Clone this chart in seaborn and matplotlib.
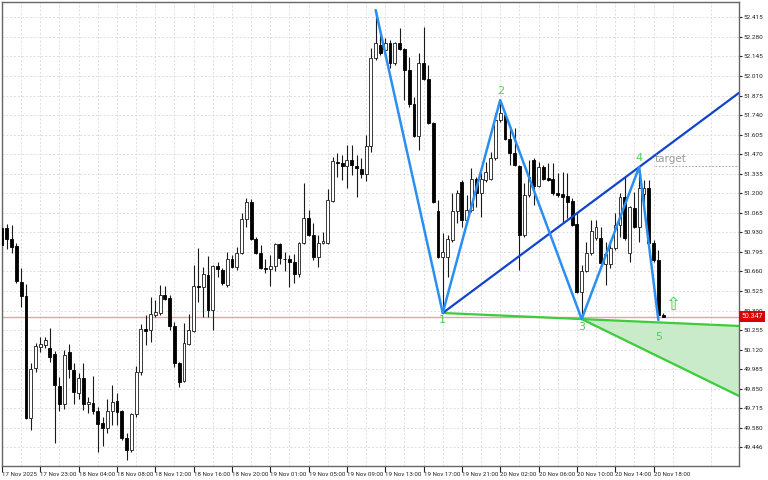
import matplotlib
matplotlib.use('Agg')
import matplotlib.pyplot as plt
import seaborn as sns
import numpy as np

# M30 bars, oldest first
opens = [50.960, 50.960, 50.884, 50.836, 50.587, 50.490, 49.648, 49.993, 50.138, 50.152,
         50.131, 50.090, 49.869, 49.745, 50.104, 49.979, 49.821, 49.924, 49.745, 49.752,
         49.696, 49.613, 49.579, 49.696, 49.765, 49.696, 49.510, 49.427, 49.675, 49.966,
         50.262, 50.256, 50.359, 50.373, 50.497, 50.477, 50.283, 50.028, 49.904, 50.159,
         50.249, 50.559, 50.553, 50.635, 50.394, 50.697, 50.670, 50.566, 50.746, 50.691,
         50.787, 51.022, 51.139, 50.884, 50.787, 50.684, 50.677, 50.697, 50.850, 50.746,
         50.743, 50.725, 50.642, 50.856, 51.029, 50.912, 50.760, 50.856, 50.856, 51.146,
         51.416, 51.409, 51.388, 51.430, 51.388, 51.367, 51.333, 51.526, 52.134, 52.224,
         52.189, 52.238, 52.099, 52.238, 52.196, 52.051, 51.816, 51.595, 52.099, 51.989,
         51.685, 51.077, 50.760, 50.760, 50.877, 51.077, 51.278, 51.015, 51.084, 51.298,
         51.202, 51.292, 51.298, 51.443, 51.706, 51.740, 51.575, 51.478, 51.388, 50.912,
         51.188, 51.430, 51.250, 51.381, 51.305, 51.298, 51.202, 51.195, 51.181, 51.146,
         50.988, 50.518, 50.663, 50.787, 50.891, 50.891, 50.711, 50.711, 50.822, 50.981,
         51.174, 50.787, 51.098, 50.967, 51.195, 51.236, 50.856, 50.739, 50.359]
highs = [50.974, 50.988, 50.981, 50.856, 50.684, 50.573, 50.028, 50.166, 50.207, 50.207,
         50.269, 50.110, 49.931, 50.117, 50.159, 50.028, 49.958, 50.028, 49.793, 49.938,
         49.724, 49.655, 49.779, 49.876, 49.821, 49.703, 49.544, 49.682, 50.007, 50.297,
         50.359, 50.483, 50.463, 50.566, 50.559, 50.497, 50.311, 50.035, 50.304, 50.366,
         50.704, 50.822, 50.691, 50.766, 50.704, 50.725, 50.684, 50.794, 50.774, 50.829,
         51.064, 51.167, 51.160, 50.898, 50.843, 50.746, 50.774, 50.856, 50.856, 50.794,
         50.774, 50.781, 50.862, 51.271, 51.084, 50.995, 50.912, 50.932, 51.229, 51.450,
         51.478, 51.464, 51.533, 51.533, 51.464, 51.443, 51.602, 52.203, 52.465, 52.307,
         52.272, 52.258, 52.244, 52.341, 52.203, 52.141, 51.865, 52.168, 52.348, 52.086,
         51.692, 51.153, 50.926, 50.912, 51.202, 51.222, 51.292, 51.188, 51.374, 51.312,
         51.340, 51.416, 51.485, 51.754, 51.844, 51.754, 51.657, 51.651, 51.395, 51.271,
         51.430, 51.443, 51.416, 51.395, 51.409, 51.409, 51.340, 51.347, 51.340, 51.167,
         51.064, 50.704, 50.863, 51.015, 51.015, 50.967, 50.863, 50.877, 51.064, 51.202,
         51.312, 51.110, 51.209, 51.381, 51.292, 51.292, 50.877, 50.808, 50.373]
lows = [50.829, 50.815, 50.787, 50.580, 50.414, 49.641, 49.565, 49.966, 50.104, 50.131,
        50.035, 49.475, 49.696, 49.710, 49.924, 49.745, 49.779, 49.703, 49.682, 49.675,
        49.413, 49.455, 49.544, 49.600, 49.600, 49.496, 49.358, 49.413, 49.655, 49.945,
        50.152, 50.173, 50.345, 50.359, 50.463, 50.256, 50.000, 49.862, 49.897, 50.152,
        50.242, 50.449, 50.345, 50.345, 50.256, 50.622, 50.566, 50.553, 50.684, 50.670,
        50.781, 50.967, 50.877, 50.781, 50.677, 50.649, 50.559, 50.663, 50.711, 50.663,
        50.553, 50.580, 50.622, 50.850, 50.905, 50.739, 50.691, 50.850, 50.850, 51.139,
        51.312, 51.292, 51.236, 51.326, 51.174, 51.305, 51.285, 51.485, 52.120, 52.155,
        52.155, 52.065, 52.086, 52.189, 51.844, 51.796, 51.588, 51.499, 51.982, 51.680,
        51.132, 50.753, 50.373, 50.622, 50.864, 50.995, 50.967, 51.002, 51.070, 51.105,
        51.036, 51.278, 51.292, 51.430, 51.692, 51.568, 51.395, 51.390, 50.670, 50.898,
        51.174, 51.119, 51.243, 51.292, 51.285, 51.188, 51.174, 51.002, 51.029, 50.974,
        50.511, 50.331, 50.656, 50.774, 50.877, 50.711, 50.566, 50.684, 50.808, 50.898,
        50.877, 50.725, 50.960, 50.864, 51.119, 50.843, 50.725, 50.325, 50.345]
closes = [50.843, 50.884, 50.829, 50.594, 50.490, 49.648, 49.986, 50.145, 50.159, 50.187,
          50.069, 49.876, 49.745, 50.083, 49.986, 49.827, 49.924, 49.745, 49.759, 49.696,
          49.606, 49.579, 49.696, 49.759, 49.689, 49.510, 49.427, 49.675, 49.966, 50.262,
          50.249, 50.366, 50.380, 50.497, 50.470, 50.283, 50.028, 49.897, 50.166, 50.256,
          50.559, 50.553, 50.642, 50.394, 50.697, 50.677, 50.580, 50.746, 50.691, 50.787,
          51.022, 51.139, 50.884, 50.787, 50.684, 50.680, 50.697, 50.850, 50.753, 50.743,
          50.725, 50.642, 50.856, 51.029, 50.912, 50.760, 50.856, 50.870, 51.153, 51.423,
          51.409, 51.388, 51.430, 51.395, 51.374, 51.333, 51.526, 52.134, 52.238, 52.169,
          52.238, 52.099, 52.238, 52.196, 52.051, 51.816, 51.595, 52.099, 51.989, 51.685,
          51.139, 50.760, 50.794, 50.884, 51.077, 51.202, 51.015, 51.084, 51.298, 51.202,
          51.298, 51.347, 51.443, 51.706, 51.754, 51.575, 51.478, 51.395, 50.912, 51.188,
          51.312, 51.250, 51.381, 51.298, 51.292, 51.202, 51.188, 51.174, 51.139, 50.981,
          50.518, 50.663, 50.787, 50.939, 50.967, 50.718, 50.780, 50.822, 50.981, 51.174,
          50.891, 51.105, 50.967, 51.236, 51.236, 50.856, 50.739, 50.359, 50.347]

time_labels = ['17 Nov 2025', '17 Nov 23:00', '18 Nov 04:00', '18 Nov 08:00', '18 Nov 12:00',
               '18 Nov 16:00', '18 Nov 20:00', '19 Nov 01:00', '19 Nov 05:00', '19 Nov 09:00',
               '19 Nov 13:00', '19 Nov 17:00', '19 Nov 21:00', '20 Nov 02:00', '20 Nov 06:00',
               '20 Nov 10:00', '20 Nov 14:00', '20 Nov 18:00']
price_labels = ['52.415', '52.280', '52.145', '52.010', '51.875', '51.740', '51.605', '51.470',
                '51.335', '51.200', '51.065', '50.930', '50.795', '50.660', '50.525', '50.390',
                '50.255', '50.120', '49.985', '49.850', '49.715', '49.580', '49.446']

# wave pattern: start, then points 1..5 (bar index, price)
wave_bars = [78, 92, 104, 121, 133, 137]
wave_prices = [52.465, 50.373, 51.844, 50.331, 51.381, 50.325]
wave_names = ['', '1', '2', '3', '4', '5']
target_price = 51.39
last_price = 50.347
wedge_low_end = 49.80

sns.set_style('white')
plt.rcParams['font.family'] = ['Roboto', 'DejaVu Sans']

fig = plt.figure(figsize=(7.68, 4.8), dpi=100)
ax = fig.add_axes([2 / 768, 14 / 480, 737 / 768, 464 / 480])
x_right = 153.84
ax.set_xlim(0.17, x_right)
ax.set_ylim(49.316, 52.521)

o = np.array(opens)
c = np.array(closes)
idx = np.arange(len(o))
up = c >= o

# grid
ax.set_yticks([float(p) for p in price_labels])
ax.set_yticklabels(price_labels)
ax.set_xticks(np.arange(0, 8 * len(time_labels), 8))
ax.set_xticklabels(time_labels)
ax.set_xticks(np.arange(4, 154, 8), minor=True)
ax.grid(True, which='both', ls=(0, (2, 2)), color='#dddddd', lw=0.7, zorder=0)

# current price line
ax.axhline(last_price, color='#e9a3a3', lw=1, zorder=1)

# wedge area between line 1-3 and lower edge from 3
b1, p1 = wave_bars[1], wave_prices[1]
b3, p3 = wave_bars[3], wave_prices[3]
b4, p4 = wave_bars[4], wave_prices[4]
s13 = (p3 - p1) / (b3 - b1)
xs = np.array([b3, x_right])
upper = p1 + s13 * (xs - b1)
lower = np.array([p3, wedge_low_end])
ax.fill_between(xs, lower, upper, color='#c9ebc9', zorder=1)

# candles
ax.vlines(idx, lows, highs, color='#1a1a1a', lw=0.8, zorder=2)
ax.bar(idx[up], (c - o)[up], bottom=o[up], width=0.6, color='white',
       edgecolor='#1a1a1a', linewidth=0.6, zorder=3)
ax.bar(idx[~up], (c - o)[~up], bottom=o[~up], width=0.6, color='black',
       edgecolor='black', linewidth=0.6, zorder=3)

# green lines
ax.plot([b1, x_right], [p1, p1 + s13 * (x_right - b1)], color='#3ccc3c', lw=1.6, zorder=4)
ax.plot(xs, lower, color='#3ccc3c', lw=1.6, zorder=4)

# trend line 1-4 extended
s14 = (p4 - p1) / (b4 - b1)
ax.plot([b1, x_right], [p1, p1 + s14 * (x_right - b1)], color='#1144cc', lw=1.6, zorder=4)

# zigzag
sns.lineplot(x=wave_bars, y=wave_prices, sort=False, color='#2a8ff0', lw=1.8, ax=ax, zorder=5)

offsets = [0, -7, 9, -8, 9, -17]
for b, p, name, dy in zip(wave_bars, wave_prices, wave_names, offsets):
    if name:
        ax.annotate(name, (b, p), xytext=(0, dy), textcoords='offset pixels',
                    ha='center', va='center', color='#55cc55', fontsize=8,
                    family='DejaVu Sans', zorder=6)

# target
ax.plot([136.3, x_right], [target_price, target_price], color='#aaaaaa', lw=0.8,
        ls=(0, (1.5, 1.5)), zorder=4)
ax.text(136.2, target_price + 0.012, 'target', color='#999999', fontsize=7.5,
        family='DejaVu Sans', ha='left', va='bottom', zorder=6)

# buy arrow
ax.text(140.1, 50.425, '\u21e7', color='#44cc44', fontsize=13, family='DejaVu Sans',
        ha='center', va='center', zorder=6)

# axes style
ax.yaxis.tick_right()
ax.tick_params(axis='y', which='major', direction='out', length=2, pad=1.5,
               labelsize=4.6, colors='#222222', right=True, left=False)
ax.tick_params(axis='x', which='major', direction='out', length=4, pad=0,
               labelsize=4.4, colors='#222222', bottom=True)
ax.tick_params(axis='x', which='minor', length=0)
for lab in ax.get_xticklabels():
    lab.set_ha('left')
for sp in ax.spines.values():
    sp.set_color('#666666')
    sp.set_linewidth(1)
    sp.set_visible(True)

ax.annotate(f'{last_price:.3f}', (1, last_price), xycoords=('axes fraction', 'data'),
            xytext=(1.5, 0), textcoords='offset points', ha='left', va='center',
            fontsize=5, color='white',
            bbox=dict(boxstyle='square,pad=0.3', fc='#dd0000', ec='none'), zorder=7,
            annotation_clip=False)

fig.savefig('out.png', dpi=100)
